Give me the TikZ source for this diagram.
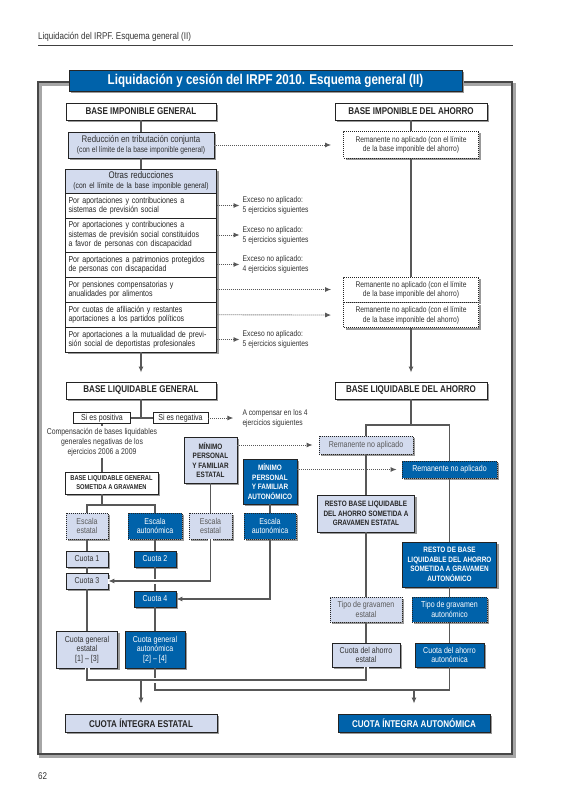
\documentclass[tikz,border=0pt]{standalone}
\usepackage{fontspec}
\setmainfont[FakeStretch=0.82]{Liberation Sans}
\usepackage{xcolor}
\usepackage{tikz}
\usetikzlibrary{positioning, arrows.meta, shapes, calc, backgrounds, fit, shadows}

\definecolor{lblue}{RGB}{211,219,238}
\definecolor{dblue}{RGB}{0,98,170}
\definecolor{lncol}{RGB}{88,88,88}
\definecolor{bdcol}{RGB}{35,35,35}

\newcommand{\tinytxt}{\fontsize{8.2}{9.2}\selectfont}
\newcommand{\notetxt}{\fontsize{8.2}{9.8}\selectfont}
\newcommand{\smtxt}{\fontsize{8.6}{9.4}\selectfont}
\newcommand{\mdtxt}{\fontsize{9.6}{10.5}\selectfont}
\newcommand{\bfsm}{\fontsize{7.8}{9.6}\selectfont\bfseries}

\begin{document}
\begin{tikzpicture}[x=1pt, y=-1pt, node distance=1.8cm, auto]
        \tikzstyle{shd} = [drop shadow={shadow xshift=2pt, shadow yshift=-2pt, fill=black!40, opacity=1}]
        \tikzstyle{banner} = [rectangle, draw=black!85, line width=0.9pt, fill=dblue, text=white, font=\fontsize{14.2}{15}\selectfont\bfseries, minimum width=393pt, minimum height=21pt, inner sep=0pt, shd]
        \tikzstyle{hdr} = [rectangle, draw=bdcol, line width=0.9pt, fill=white, text=black!85, font=\fontsize{9.8}{11}\selectfont\bfseries, minimum height=17pt, inner sep=0.5pt, align=center, shd]
        \tikzstyle{lbox} = [rectangle, draw=bdcol, line width=0.8pt, fill=lblue, text=black!80, font=\smtxt, inner sep=0.5pt, align=center, shd]
        \tikzstyle{bbox} = [lbox, fill=dblue, text=white]
        \tikzstyle{dashl} = [lbox, dash pattern=on 1pt off 1pt, text=black!65]
        \tikzstyle{dashb} = [bbox, dash pattern=on 1pt off 1pt]
        \tikzstyle{dashw} = [lbox, fill=white, font=\tinytxt, dash pattern=on 1pt off 1pt]
        \tikzstyle{rowbox} = [rectangle, draw=bdcol, line width=0.6pt, fill=white, text=black!85, font=\smtxt, text width=145pt, inner xsep=3pt, inner ysep=0.5pt, align=left, outer sep=0pt]
        \tikzstyle{choice} = [rectangle, draw=bdcol, line width=0.6pt, fill=white, text=black!85, font=\smtxt, inner sep=0.5pt]
        \tikzstyle{note} = [font=\notetxt, align=left, text=black!80, inner sep=0pt]
        \tikzstyle{conn} = [draw=lncol, line width=1.1pt]
        \tikzstyle{arrow} = [conn, -{Latex[length=6pt, width=5pt]}]
        \tikzstyle{dotarrow} = [arrow, dash pattern=on 1pt off 1pt, line width=0.9pt]
        \tikzstyle{halo} = [preaction={draw=white, line width=5pt, -}]

        \useasboundingbox (0,0) rectangle (563,799);

        % page heading and frame
        \node [anchor=base west, inner sep=0pt, text=black!80, font=\fontsize{9.8}{11}\selectfont] (phead) at (38,40) {Liquidación del IRPF. Esquema general (II)};
        \draw [black!75, line width=0.8pt] (38,45) -- (513,45);
        \draw [black!35, line width=2.4pt] (40.5,84.5) rectangle (514.5,756.5);
        \draw [black!72, line width=2.4pt] (38,82) rectangle (512,754);
        \node [banner] (ttl) at (265.5,81) {Liquidación y cesión del IRPF 2010. Esquema general (II)};
        \node [anchor=west, inner sep=0pt, text=black!80, font=\fontsize{9.8}{11}\selectfont] (pnum) at (38,776) {62};

        % base imponible general
        \node [hdr, minimum width=150pt] (big1) at (141,111.5) {BASE IMPONIBLE GENERAL};
        \node [lbox, minimum width=146pt, minimum height=26pt] (red) at (141,145) {{\mdtxt Reducción en tributación conjunta}\\{\tinytxt (con el límite de la base imponible general)}};
        \node [rowbox, fill=lblue, align=center, minimum height=24pt] (oth) at (141,181) {{\mdtxt Otras reducciones}\\{\tinytxt (con el límite de la base imponible general)}};
        \node [rowbox, below=0pt of oth, minimum height=25pt] (row1) {Por aportaciones y contribuciones a\\sistemas de previsión social};
        \node [rowbox, below=0pt of row1, minimum height=34pt] (row2) {Por aportaciones y contribuciones a\\sistemas de previsión social constituidos\\a favor de personas con discapacidad};
        \node [rowbox, below=0pt of row2, minimum height=25pt] (row3) {Por aportaciones a patrimonios protegidos\\de personas con discapacidad};
        \node [rowbox, below=0pt of row3, minimum height=25pt] (row4) {Por pensiones compensatorias y\\anualidades por alimentos};
        \node [rowbox, below=0pt of row4, minimum height=25pt] (row5) {Por cuotas de afiliación y restantes\\aportaciones a los partidos políticos};
        \node [rowbox, below=0pt of row5, minimum height=25pt] (row6) {Por aportaciones a la mutualidad de previ-\\sión social de deportistas profesionales};
        \begin{scope}[on background layer]
            \node [fit=(oth)(row6), inner sep=0pt, fill=white, shd] (othbg) {};
        \end{scope}
        \node [fit=(oth)(row6), inner sep=0pt, draw=bdcol, line width=0.9pt] (othfr) {};

        \node [note, right=26pt of row1] (ex1) {Exceso no aplicado:\\5 ejercicios siguientes};
        \node [note, right=26pt of row2] (ex2) {Exceso no aplicado:\\5 ejercicios siguientes};
        \node [note, right=26pt of row3] (ex3) {Exceso no aplicado:\\4 ejercicios siguientes};
        \node [note, right=26pt of row6] (ex6) {Exceso no aplicado:\\5 ejercicios siguientes};

        % base imponible del ahorro
        \node [hdr, minimum width=152pt] (bia) at (411,111.5) {BASE IMPONIBLE DEL AHORRO};
        \node [dashw, minimum width=135pt, minimum height=27pt] (rem1) at (411,145) {Remanente no aplicado (con el límite\\de la base imponible del ahorro)};
        \node [dashw, minimum width=135pt, minimum height=25pt] (rem2) at (411,289.5) {Remanente no aplicado (con el límite\\de la base imponible del ahorro)};
        \node [dashw, minimum width=135pt, minimum height=25pt, below=0pt of rem2] (rem3) {Remanente no aplicado (con el límite\\de la base imponible del ahorro)};

        \draw [conn] (big1) -- (red);
        \draw [conn] (red) -- (oth);
        \draw [dotarrow, shorten >=12pt] (red) -- (rem1);
        \draw [dotarrow, shorten >=3pt] (row1) -- (ex1);
        \draw [dotarrow, shorten >=3pt] (row2) -- (ex2);
        \draw [dotarrow, shorten >=3pt] (row3) -- (ex3);
        \draw [dotarrow, shorten >=12pt] (row4) -- (rem2);
        \draw [dotarrow, shorten >=12pt] (row5) -- (rem3);
        \draw [dotarrow, shorten >=3pt] (row6) -- (ex6);
        \draw [conn] (bia) -- (rem1);
        \draw [conn] (rem1) -- (rem2);

        % bases liquidables
        \node [hdr, minimum width=150pt] (blg) at (141,390.5) {BASE LIQUIDABLE GENERAL};
        \node [hdr, minimum width=152pt] (bla) at (411,390.5) {BASE LIQUIDABLE DEL AHORRO};
        \draw [arrow, shorten >=9pt] (row6) -- (blg);
        \draw [arrow, shorten >=9pt] (rem3) -- (bla);

        \node [choice, minimum width=57pt, minimum height=11pt] (pos) at (102,418) {Si es positiva};
        \node [choice, minimum width=55pt, minimum height=11pt] (neg) at (180.5,418) {Si es negativa};
        \node [note, right=34pt of neg] (cmp1) {A compensar en los 4\\ejercicios siguientes};
        \node [note, align=center, inner sep=2pt, font=\fontsize{8.4}{9.8}\selectfont] (cmp2) at (102,442) {Compensación de bases liquidables\\generales negativas de los\\ejercicios 2006 a 2009};
        \node [hdr, font=\fontsize{7}{9}\selectfont\bfseries, minimum width=93pt, minimum height=22pt] (blgs) at (111.5,483) {BASE LIQUIDABLE GENERAL\\SOMETIDA A GRAVAMEN};
        \draw [conn] (blg) -- (blg.south |- pos);
        \draw [conn] (pos) -- (neg);
        \draw [dotarrow, shorten >=9pt] (neg) -- (cmp1);
        \draw [conn] (pos) -- (cmp2);
        \draw [conn] (cmp2) -- (cmp2 |- blgs.north);

        % minimos
        \node [lbox, font=\bfsm, text=black!85, minimum width=53pt, minimum height=46pt] (mpe) at (210.5,460) {MÍNIMO\\PERSONAL\\Y FAMILIAR\\ESTATAL};
        \node [bbox, font=\bfsm, minimum width=54pt, minimum height=45pt] (mpa) at (270,481.5) {MÍNIMO\\PERSONAL\\Y FAMILIAR\\AUTONÓMICO};

        % escalas y cuotas
        \node [dashl, minimum width=42pt, minimum height=26pt] (ee1) at (87,526) {Escala\\estatal};
        \node [dashb, minimum width=54pt, minimum height=26pt] (ea1) at (155,526) {Escala\\autonómica};
        \node [dashl, minimum width=43pt, minimum height=26pt] (ee2) at (210.5,526) {Escala\\estatal};
        \node [dashb, minimum width=52pt, minimum height=26pt] (ea2) at (270,526) {Escala\\autonómica};
        \node [lbox, minimum width=42pt, minimum height=16pt] (c1) at (87,559) {Cuota 1};
        \node [bbox, minimum width=42pt, minimum height=16pt] (c2) at (155,559) {Cuota 2};
        \node [lbox, minimum width=42pt, minimum height=16pt] (c3) at (87,581) {Cuota 3};
        \node [bbox, minimum width=42pt, minimum height=16pt] (c4) at (155,599) {Cuota 4};
        \node [lbox, minimum width=61pt, minimum height=37pt] (cgE) at (87,649.5) {Cuota general\\estatal\\{[1] – [3]}};
        \node [bbox, minimum width=60pt, minimum height=37pt] (cgA) at (155,649.5) {Cuota general\\autonómica\\{[2] – [4]}};

        \coordinate (sp1) at (102,505);
        \draw [conn] (blgs.south -| sp1) -- (sp1);
        \draw [conn] (ee1) |- (sp1) -| (ea1);
        \draw [conn] (mpe) -- (ee2);
        \draw [conn] (mpa) -- (ea2);
        \draw [conn] (ee1) -- (c1);
        \draw [conn] (c1) -- (c3);
        \draw [conn] (c3) -- (cgE);
        \draw [conn] (ea1) -- (c2);
        \draw [conn] (c2) -- (c4);
        \draw [conn] (c4) -- (cgA);
        \draw [arrow, halo] (ee2) |- (c3);
        \draw [arrow] (ea2) |- (c4);

        % ahorro
        \node [dashl, minimum width=94pt, minimum height=18pt] (remL) at (366,445) {Remanente no aplicado};
        \node [dashb, minimum width=95pt, minimum height=17pt] (remR) at (449.5,469.5) {Remanente no aplicado};
        \node [lbox, font=\bfsm, text=black!85, minimum width=97pt, minimum height=37pt] (resE) at (366,513.5) {RESTO BASE LIQUIDABLE\\DEL AHORRO SOMETIDA A\\GRAVAMEN ESTATAL};
        \node [bbox, font=\bfsm, minimum width=94pt, minimum height=45pt] (resA) at (449.5,564.5) {RESTO DE BASE\\LIQUIDABLE DEL AHORRO\\SOMETIDA A GRAVAMEN\\AUTONÓMICO};
        \node [dashl, minimum width=72pt, minimum height=25pt] (tgE) at (366,609.5) {Tipo de gravamen\\estatal};
        \node [dashb, minimum width=75pt, minimum height=25pt] (tgA) at (449.5,609.5) {Tipo de gravamen\\autonómico};
        \node [lbox, minimum width=68pt, minimum height=24pt] (caE) at (366,655) {Cuota del ahorro\\estatal};
        \node [bbox, minimum width=69pt, minimum height=24pt] (caA) at (449.5,655) {Cuota del ahorro\\autonómica};

        \coordinate (sp2) at (411,425);
        \draw [conn] (bla) -- (sp2);
        \draw [conn] (remL) |- (sp2) -| (remR);
        \draw [dotarrow, shorten >=6pt] (mpe.east |- remL) -- (remL);
        \draw [dotarrow, shorten >=5pt] (mpa.east |- remR) -- (remR);
        \draw [conn] (remL) -- (resE);
        \draw [conn] (resE) -- (tgE);
        \draw [conn] (tgE) -- (caE);
        \draw [conn] (remR) -- (resA);
        \draw [conn] (resA) -- (tgA);
        \draw [conn] (tgA) -- (caA);

        % cuotas integras
        \node [hdr, fill=lblue, minimum width=152pt, minimum height=18pt] (ciE) at (141,723) {CUOTA ÍNTEGRA ESTATAL};
        \node [hdr, fill=dblue, text=white, minimum width=152pt, minimum height=18pt] (ciA) at (414,723) {CUOTA ÍNTEGRA AUTONÓMICA};
        \coordinate (j1) at (141,680);
        \coordinate (j2) at (414,690);
        \draw [conn] (cgA) |- (j2) -| (caA);
        \draw [conn, halo] (cgE) |- (j1) -| (caE);
        \draw [arrow, shorten >=10pt] (j1) -- (ciE);
        \draw [arrow, shorten >=10pt] (j2) -- (ciA);
    \end{tikzpicture}
\end{document}
